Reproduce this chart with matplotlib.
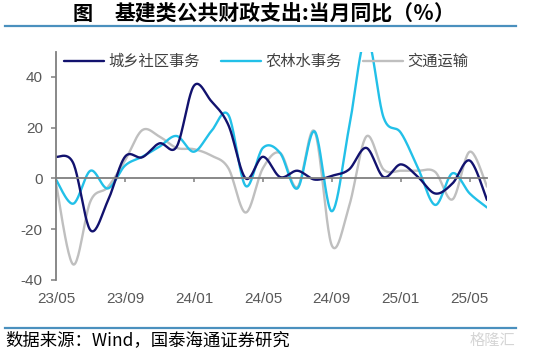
import numpy as np
import matplotlib
matplotlib.use("Agg")
import matplotlib.pyplot as plt
from matplotlib.lines import Line2D

plt.rcParams['font.family'] = ['Noto Sans CJK SC', 'DejaVu Sans']

months = ["23/05", "23/06", "23/07", "23/08", "23/09", "23/10", "23/11", "23/12",
          "24/01", "24/02", "24/03", "24/04", "24/05", "24/06", "24/07", "24/08",
          "24/09", "24/10", "24/11", "24/12", "25/01", "25/02", "25/03", "25/04",
          "25/05", "25/06"]

urban = [8.5, 6, -20.5, -9, 8.5, 8.3, 13.8, 12.5, 36.5, 30.5, 21, 0, 8.5, 0.5,
         3, -0.5, 1, 3.5, 12, 0.5, 5.5, 0.5, -6, -2, 7, -8.5]
agri = [-0.5, -10, 3, -4, 5, 8.5, 12.5, 16.7, 10.5, 18.5, 25, -3, 12, 10,
        -4, 18.5, -13, 20, 56, 24, 18, 4, -10.5, 2, -6, -11.5]
transport = [-2, -34, -9, -3.5, 7, 19, 16.5, 12, 11.5, 9, 4, -13.5, 4, 10,
             -3.5, 18.5, -26.5, -11, 16.5, 3.5, 3, 3, 2.5, -8.3, 10.5, -3.3]

series_names = ["城乡社区事务", "农林水事务", "交通运输"]
colors = ["#12126E", "#22C0E8", "#BFBFBF"]

tick_idx = [0, 4, 8, 12, 16, 20, 24]
yticks = [-40, -20, 0, 20, 40]
ytick_labels = ["-40", "-20", "0", "20", "40"]


def smooth(vals, n=24):
    y = np.asarray(vals, float)
    x = np.arange(len(y), dtype=float)
    N = len(y)
    xs, ys = [], []
    t = np.linspace(0, 1, n, endpoint=False)
    for i in range(N - 1):
        i0 = max(i - 1, 0)
        i3 = min(i + 2, N - 1)
        p1 = np.array([x[i], y[i]])
        p2 = np.array([x[i + 1], y[i + 1]])
        p0 = np.array([x[i0], y[i0]])
        p3 = np.array([x[i3], y[i3]])
        c1 = p1 + (p2 - p0) / 6.0
        c2 = p2 - (p3 - p1) / 6.0
        b = ((1 - t) ** 3)[:, None] * p1 + (3 * (1 - t) ** 2 * t)[:, None] * c1 \
            + (3 * (1 - t) * t ** 2)[:, None] * c2 + (t ** 3)[:, None] * p2
        xs.append(b[:, 0])
        ys.append(b[:, 1])
    xs.append([x[-1]])
    ys.append([y[-1]])
    return np.concatenate(xs), np.concatenate(ys)


fig = plt.figure(figsize=(5.37, 3.55), dpi=100)
W, H = 537, 355
ax = fig.add_axes([56 / W, 1 - 279.7 / H, (487 - 56) / W, (279.7 - 51.6) / H])

handles = []
for vals, name, c in zip([urban, agri, transport], series_names, colors):
    sx, sy = smooth(vals)
    ln, = ax.plot(sx, sy, color=c, lw=1.7, label=name, solid_capstyle='round')
    handles.append(ln)
handles[2].set_zorder(1.5)
handles[1].set_zorder(2)
handles[0].set_zorder(2.5)

ax.set_xlim(0, len(months) - 1)
ax.set_ylim(-40, 50)

axis_c = "#7F7F7F"
for s in ["top", "right"]:
    ax.spines[s].set_visible(False)
ax.spines["left"].set_color(axis_c)
ax.spines["left"].set_linewidth(1.3)
ax.spines["left"].set_bounds(-40, 50)
ax.spines["bottom"].set_position(("data", 0))
ax.spines["bottom"].set_color(axis_c)
ax.spines["bottom"].set_linewidth(1.3)

ax.set_yticks(yticks)
ax.set_yticklabels(ytick_labels, family=["Liberation Sans", "DejaVu Sans"])
ax.tick_params(axis="y", direction="out", length=3.5, width=1.1, color=axis_c,
               labelcolor="#595959", labelsize=11, pad=6)
ax.set_xticks(tick_idx)
ax.set_xticklabels([])
ax.tick_params(axis="x", direction="out", length=3, width=1.1, color=axis_c)

sec = ax.secondary_xaxis("bottom")
sec.set_xticks(tick_idx)
sec.set_xticklabels([months[i] for i in tick_idx], family=["Liberation Sans", "DejaVu Sans"])
sec.tick_params(axis="x", length=0, labelcolor="#595959", labelsize=11, pad=9)
sec.spines["bottom"].set_visible(False)

leg = ax.legend(handles=handles, loc="center left",
                bbox_to_anchor=(64 / W, 1 - 61.5 / H), bbox_transform=fig.transFigure,
                ncol=3, frameon=False, fontsize=11, handlelength=2.6,
                handletextpad=0.3, columnspacing=1.4, borderpad=0, borderaxespad=0)
for t in leg.get_texts():
    t.set_color("#404040")

line_c = "#4A90BE"
fig.add_artist(Line2D([5 / W, 516 / W], [1 - 26 / H] * 2, color=line_c, lw=1.6))
fig.add_artist(Line2D([5 / W, 516 / W], [1 - 327.5 / H] * 2, color=line_c, lw=1.6))
fig.text(83 / W, 1 - 13 / H, "图", ha="center", va="center", fontsize=14.5, weight="bold")
fig.text(115 / W, 1 - 13 / H, "基建类公共财政支出:当月同比（％）", ha="left", va="center",
         fontsize=15, weight="bold")
fig.text(5 / W, 1 - 340 / H, "数据来源：Wind，国泰海通证券研究", ha="left", va="center",
         fontsize=12.5)
fig.text(470 / W, 1 - 340 / H, "格隆汇", ha="left", va="center", fontsize=11,
         color="#D5D5D5")

fig.savefig("out.png", dpi=100)
